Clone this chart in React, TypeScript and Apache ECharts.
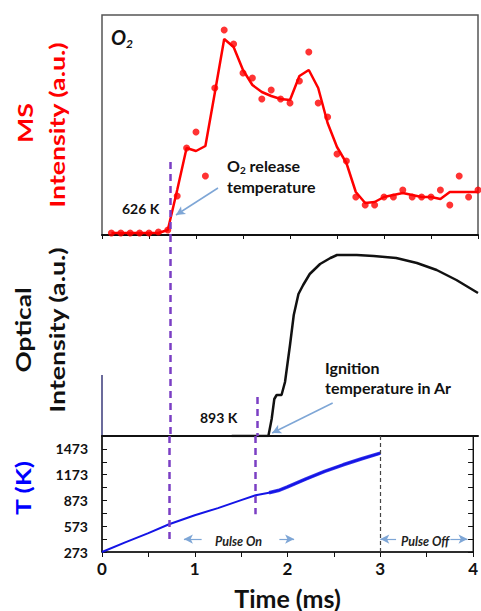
import React, { useEffect, useRef } from "react";
import * as echarts from "echarts";

// ---------- MS (O2) panel ----------
const msTime = [0.1, 0.2, 0.3, 0.4, 0.5, 0.6, 0.7, 0.8, 0.9, 1.0, 1.1, 1.2, 1.3, 1.4, 1.5, 1.6, 1.7, 1.8, 1.9, 2.0,
  2.1, 2.2, 2.3, 2.4, 2.5, 2.6, 2.7, 2.8, 2.9, 3.0, 3.1, 3.2, 3.3, 3.4, 3.5, 3.6, 3.7, 3.8, 3.9, 4.0];
const msDots = [2, 2, 2, 2, 2, 3, 5, 39, 87, 103, 59, 147, 205, 191, 162, 157, 136, 145, 136, 132,
  154, 183, 132, 118, 81, 74, 38, 30, 30, 38, 38, 45, 38, 38, 38, 45, 30, 59, 38, 45];
const msSmooth = [2, 2, 2, 2, 2, 2, 5, 45, 87, 84, 89, 142, 196, 188, 165, 150, 143, 139, 136, 135,
  159, 165, 147, 112, 88, 72, 43, 32, 33, 38, 40, 42, 40, 38, 38, 36, 43, 43, 43, 43];

// ---------- Optical panel ----------
const optTime = [1.38, 1.77, 1.805, 1.833, 1.858, 1.91, 1.947, 2.0, 2.04, 2.09, 2.14, 2.21, 2.32, 2.43, 2.5,
  2.71, 2.89, 3.13, 3.35, 3.56, 3.77, 4.0];
const optValue = [0, 0, 17, 37, 41, 41, 54, 91, 121, 142, 151, 162, 172, 178, 181, 181, 180, 178, 173, 166, 156, 143];

// ---------- Temperature panel ----------
const tTime = [0, 0.25, 0.5, 0.723, 1.0, 1.25, 1.5, 1.656, 1.8, 1.9, 2.0, 2.2, 2.4, 2.6, 2.8, 3.0];
const tKelvin = [273, 385, 492, 596, 700, 784, 877, 934, 962, 988, 1031, 1123, 1211, 1288, 1358, 1423];
const tBase = 273;
const tTickLabels = [273, 573, 873, 1173, 1473];

// annotation positions (data space)
const o2ReleaseTime = 0.723;
const ignitionTime = 1.656;
const pulseOffTime = 3.0;

const FONT = "Lato, 'Open Sans', sans-serif";
const RED = "#ff0000";
const BLUE = "#1414e6";
const PURPLE = "#7b3fc4";
const ARROW = "#7ea6d6";

function purpleDash(x: number, y1: number, y2: number) {
  return [
    { coord: [x, y1], lineStyle: { color: PURPLE, width: 2.5, type: [7, 5] } },
    { coord: [x, y2] },
  ];
}
function arrowLine(x1: number, y1: number, x2: number, y2: number, w = 1.5) {
  return [
    { coord: [x1, y1], lineStyle: { color: ARROW, width: w, type: "solid" } },
    { coord: [x2, y2], symbol: "arrow", symbolSize: [7, 9] },
  ];
}

function xAxisBase(gridIndex: number) {
  return {
    gridIndex,
    type: "value",
    min: 0,
    max: 4,
    interval: 0.5,
    splitLine: { show: false },
    axisLine: { show: true, onZero: false, lineStyle: { color: "#111", width: 2 } },
    axisTick: { show: true, inside: false, length: 4, lineStyle: { color: "#111", width: 1 } },
    axisLabel: { show: false },
  };
}

export default function App() {
  const ref = useRef<HTMLDivElement>(null);
  useEffect(() => {
    const chart = echarts.init(ref.current!, null, { renderer: "svg" });
    const option: any = {
      animation: false,
      backgroundColor: "#fff",
      grid: [
        { left: 102, top: 15, width: 376, height: 220, show: true, borderColor: "#555", borderWidth: 1.5, backgroundColor: "transparent" },
        { left: 102, top: 235, width: 376, height: 201, show: false },
        { left: 102, top: 436, width: 376, height: 117, show: true, borderColor: "#111", borderWidth: 1, backgroundColor: "transparent" },
      ],
      xAxis: [
        xAxisBase(0),
        { ...xAxisBase(1), axisLine: { show: true, onZero: false, lineStyle: { color: "#111", width: 2 } }, axisTick: { show: false } },
        {
          ...xAxisBase(2),
          axisLine: { show: true, onZero: false, lineStyle: { color: "#111", width: 1.5 } },
          axisTick: { show: true, inside: false, length: 5, lineStyle: { color: "#111", width: 1 } },
          axisLabel: {
            show: true,
            margin: 8,
            fontFamily: FONT,
            fontWeight: "bold",
            fontSize: 17,
            color: "#111",
            formatter: (v: number) => (Number.isInteger(v) ? String(v) : ""),
          },
          name: "Time (ms)",
          nameLocation: "middle",
          nameGap: 33,
          nameTextStyle: { fontFamily: FONT, fontWeight: "bold", fontSize: 25, color: "#111" },
        },
      ],
      yAxis: [
        { gridIndex: 0, type: "value", min: 0, max: 220, show: false },
        { gridIndex: 1, type: "value", min: 0, max: 201, show: false },
        {
          gridIndex: 2,
          type: "value",
          min: 0,
          max: 1350,
          interval: 150,
          splitLine: { show: false },
          axisLine: { show: true, lineStyle: { color: "#111", width: 1.5 } },
          axisTick: { show: true, inside: true, length: 5, lineStyle: { color: "#111" } },
          axisLabel: {
            margin: 14,
            fontFamily: FONT,
            fontWeight: "bold",
            fontSize: 14,
            color: "#111",
            formatter: (v: number) => (tTickLabels.indexOf(v + tBase) >= 0 ? String(v + tBase) : ""),
          },
        },
        {
          gridIndex: 2,
          type: "value",
          position: "right",
          min: 0,
          max: 1350,
          interval: 150,
          splitLine: { show: false },
          axisLine: { show: true, lineStyle: { color: "#111", width: 1 } },
          axisTick: { show: true, inside: true, length: 5, lineStyle: { color: "#111" } },
          axisLabel: { show: false },
        },
      ],
      series: [
        {
          type: "line",
          xAxisIndex: 0,
          yAxisIndex: 0,
          data: msTime.map((t, i) => [t, msSmooth[i]]),
          symbol: "none",
          lineStyle: { color: RED, width: 2.5 },
          z: 3,
          markLine: {
            silent: true,
            symbol: ["none", "none"],
            label: { show: false },
            data: [purpleDash(o2ReleaseTime, 73, 0), arrowLine(1.234, 47, 0.787, 20)],
          },
        },
        {
          type: "scatter",
          xAxisIndex: 0,
          yAxisIndex: 0,
          data: msTime.map((t, i) => [t, msDots[i]]),
          symbolSize: 7,
          itemStyle: { color: RED },
          z: 4,
        },
        {
          type: "line",
          xAxisIndex: 1,
          yAxisIndex: 1,
          data: optTime.map((t, i) => [t, optValue[i]]),
          symbol: "none",
          lineStyle: { color: "#111", width: 2.5 },
          markLine: {
            silent: true,
            symbol: ["none", "none"],
            label: { show: false },
            data: [
              purpleDash(o2ReleaseTime, 201, 0),
              purpleDash(ignitionTime, 39, 0),
              arrowLine(2.454, 33, 1.81, 3),
            ],
          },
        },
        {
          type: "line",
          xAxisIndex: 2,
          yAxisIndex: 2,
          data: tTime.map((t, i) => [t, tKelvin[i] - tBase]),
          symbol: "none",
          lineStyle: { color: BLUE, width: 2 },
          z: 3,
          markLine: {
            silent: true,
            symbol: ["none", "none"],
            label: { show: false },
            data: [
              purpleDash(o2ReleaseTime, 1350, 150),
              purpleDash(ignitionTime, 1350, 438),
              [
                { coord: [pulseOffTime, 1350], lineStyle: { color: "#444", width: 1.2, type: [4, 3] } },
                { coord: [pulseOffTime, 0] },
              ],
              arrowLine(1.074, 150, 0.883, 150, 1.2),
              arrowLine(1.912, 150, 2.071, 150, 1.2),
              arrowLine(3.17, 150, 3.0, 150, 1.2),
              arrowLine(3.755, 150, 3.94, 150, 1.2),
            ],
          },
        },
        {
          type: "line",
          xAxisIndex: 2,
          yAxisIndex: 2,
          data: tTime.map((t, i) => [t, tKelvin[i] - tBase]).filter((p) => p[0] >= 1.8),
          symbol: "none",
          lineStyle: { color: BLUE, width: 3.5, opacity: 0.85 },
          z: 2,
        },
      ],
      graphic: [
        // Y-axis titles
        { type: "text", x: 25, y: 123, rotation: Math.PI / 2, scaleX: 1.27,
          style: { text: "MS", fill: RED, font: `bold 21px ${FONT}`, textAlign: "center", textVerticalAlign: "middle" } },
        { type: "text", x: 57, y: 125, rotation: Math.PI / 2, scaleX: 1.27,
          style: { text: "Intensity (a.u.)", fill: RED, font: `bold 21px ${FONT}`, textAlign: "center", textVerticalAlign: "middle" } },
        { type: "text", x: 23, y: 330, rotation: Math.PI / 2, scaleX: 1.25,
          style: { text: "Optical", fill: "#111", font: `bold 21px ${FONT}`, textAlign: "center", textVerticalAlign: "middle" } },
        { type: "text", x: 57, y: 330, rotation: Math.PI / 2, scaleX: 1.27,
          style: { text: "Intensity (a.u.)", fill: "#111", font: `bold 21px ${FONT}`, textAlign: "center", textVerticalAlign: "middle" } },
        { type: "text", x: 23, y: 488, rotation: Math.PI / 2, scaleX: 1.26,
          style: { text: "T (K)", fill: "#0000ff", font: `bold 21px ${FONT}`, textAlign: "center", textVerticalAlign: "middle" } },
        // partial left border of optical panel
        { type: "line", shape: { x1: 102, y1: 375, x2: 102, y2: 436 }, style: { stroke: "#3a3a7a", lineWidth: 1.5 } },
        // O2 label
        { type: "text", x: 111, y: 37,
          style: {
            text: "{a|O}{b|2}",
            textVerticalAlign: "middle",
            rich: {
              a: { font: `italic bold 20px ${FONT}`, fill: "#111", lineHeight: 24, verticalAlign: "middle" },
              b: { font: `italic bold 12px ${FONT}`, fill: "#111", lineHeight: 24, verticalAlign: "bottom" },
            },
          } },
        { type: "text", x: 227, y: 165,
          style: {
            text: "{n|O}{s|2}{n| release}",
            textVerticalAlign: "middle",
            rich: {
              n: { font: `bold 16px ${FONT}`, fill: "#111", lineHeight: 20, verticalAlign: "middle" },
              s: { font: `bold 10px ${FONT}`, fill: "#111", lineHeight: 20, verticalAlign: "bottom" },
            },
          } },
        { type: "text", x: 227, y: 186,
          style: { text: "temperature", fill: "#111", font: `bold 16px ${FONT}`, textVerticalAlign: "middle" } },
        { type: "text", x: 122, y: 208,
          style: { text: "626 K", fill: "#111", font: `bold 14px ${FONT}`, textVerticalAlign: "middle" } },
        { type: "text", x: 325, y: 367,
          style: { text: "Ignition", fill: "#111", font: `bold 16px ${FONT}`, textVerticalAlign: "middle" } },
        { type: "text", x: 325, y: 387,
          style: { text: "temperature in Ar", fill: "#111", font: `bold 16px ${FONT}`, textVerticalAlign: "middle" } },
        { type: "text", x: 200, y: 417,
          style: { text: "893 K", fill: "#111", font: `bold 14px ${FONT}`, textVerticalAlign: "middle" } },
        { type: "text", x: 215, y: 541,
          style: { text: "Pulse On", fill: "#222", font: `italic bold 12.5px ${FONT}`, textVerticalAlign: "middle" } },
        { type: "text", x: 401, y: 541,
          style: { text: "Pulse Off", fill: "#222", font: `italic bold 12.5px ${FONT}`, textVerticalAlign: "middle" } },
      ],
    };
    chart.setOption(option);
    return () => chart.dispose();
  }, []);
  return (
    <div
      ref={ref}
      style={{ position: "fixed", left: 0, top: 0, width: 481, height: 611, background: "#fff" }}
    />
  );
}
